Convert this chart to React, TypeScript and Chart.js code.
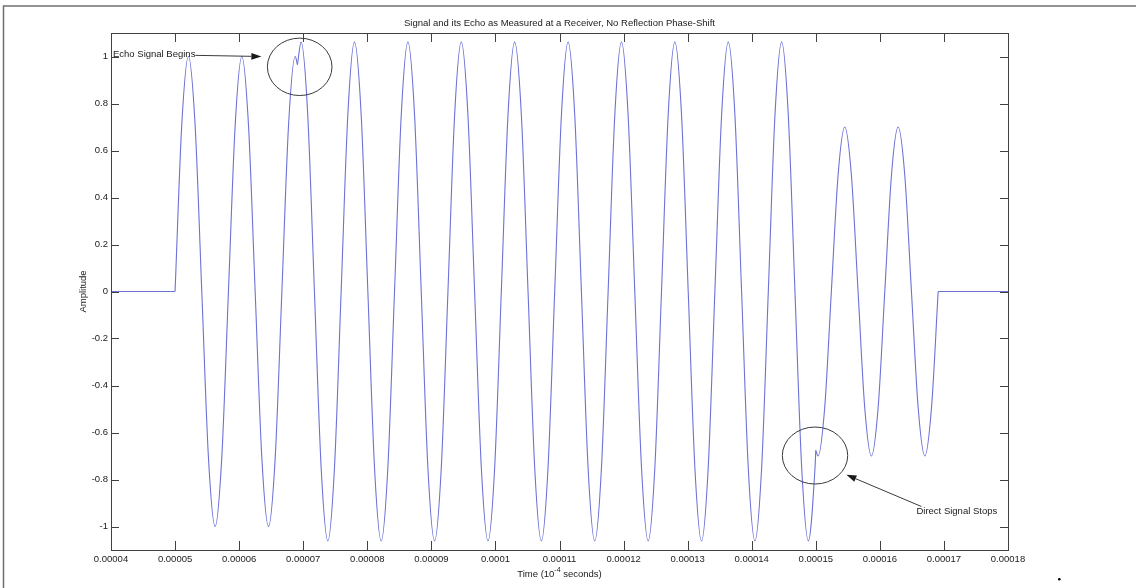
import React, { useEffect, useRef } from "react";
import { Chart, registerables } from "chart.js";

Chart.register(...registerables);

// ---- Data (time in microseconds, amplitude) ----
const leadTimeUs = [40, 50];
const leadAmp = [0, 0];

const directTimeUs = [
  50.0, 51.04, 52.08, 53.13, 54.17, 55.21, 56.25, 57.29, 58.33, 59.38,
  60.42, 61.46, 62.5, 63.54, 64.58, 65.63, 66.67, 67.71, 68.75, 69.1,
];
const directAmp = [
  0, 0.707, 1, 0.707, 0, -0.707, -1, -0.707, 0, 0.707,
  1, 0.707, 0, -0.707, -1, -0.707, 0, 0.707, 1, 0.965,
];

const overlapTimeUs = [
  69.1,
  69.67, 70.71, 71.75, 72.8, 73.84, 74.88, 75.92, 76.96,
  78.0, 79.05, 80.09, 81.13, 82.17, 83.21, 84.25, 85.3,
  86.34, 87.38, 88.42, 89.46, 90.5, 91.55, 92.59, 93.63,
  94.67, 95.71, 96.75, 97.8, 98.84, 99.88, 100.92, 101.96,
  103.0, 104.05, 105.09, 106.13, 107.17, 108.21, 109.25, 110.3,
  111.34, 112.38, 113.42, 114.46, 115.5, 116.55, 117.59, 118.63,
  119.67, 120.71, 121.75, 122.8, 123.84, 124.88, 125.92, 126.96,
  128.0, 129.05, 130.09, 131.13, 132.17, 133.21, 134.25, 135.3,
  136.34, 137.38, 138.42, 139.46, 140.5, 141.55, 142.59, 143.63,
  144.67, 145.71, 146.75, 147.8, 148.84, 149.88,
  150.0,
];
const overlapAmp = [
  0.965,
  1.061, 0.75, 0, -0.75, -1.061, -0.75, 0, 0.75,
  1.061, 0.75, 0, -0.75, -1.061, -0.75, 0, 0.75,
  1.061, 0.75, 0, -0.75, -1.061, -0.75, 0, 0.75,
  1.061, 0.75, 0, -0.75, -1.061, -0.75, 0, 0.75,
  1.061, 0.75, 0, -0.75, -1.061, -0.75, 0, 0.75,
  1.061, 0.75, 0, -0.75, -1.061, -0.75, 0, 0.75,
  1.061, 0.75, 0, -0.75, -1.061, -0.75, 0, 0.75,
  1.061, 0.75, 0, -0.75, -1.061, -0.75, 0, 0.75,
  1.061, 0.75, 0, -0.75, -1.061, -0.75, 0, 0.75,
  1.061, 0.75, 0, -0.75, -1.061, -0.75,
  -0.676,
];

const echoTimeUs = [
  150.0, 150.35, 151.39, 152.43, 153.48, 154.52, 155.56, 156.6, 157.64, 158.68,
  159.73, 160.77, 161.81, 162.85, 163.89, 164.93, 165.98, 167.02, 168.06, 169.1,
];
const echoAmp = [
  -0.676, -0.7, -0.495, 0, 0.495, 0.7, 0.495, 0, -0.495, -0.7,
  -0.495, 0, 0.495, 0.7, 0.495, 0, -0.495, -0.7, -0.495, 0,
];

const tailTimeUs = [169.1, 180];
const tailAmp = [0, 0];

const xTickValuesUs = [40, 50, 60, 70, 80, 90, 100, 110, 120, 130, 140, 150, 160, 170, 180];
const xTickLabels = [
  "0.00004", "0.00005", "0.00006", "0.00007", "0.00008", "0.00009", "0.0001",
  "0.00011", "0.00012", "0.00013", "0.00014", "0.00015", "0.00016", "0.00017", "0.00018",
];
const yTickValues = [-1, -0.8, -0.6, -0.4, -0.2, 0, 0.2, 0.4, 0.6, 0.8, 1];
const yTickLabels = ["-1", "-0.8", "-0.6", "-0.4", "-0.2", "0", "0.2", "0.4", "0.6", "0.8", "1"];

const titleText = "Signal and its Echo as Measured at a Receiver, No Reflection Phase-Shift";
const yLabelText = "Amplitude";

// ---- Styles ----
const FONT = "'Liberation Sans', Arial, sans-serif";
const LINE_COLOR = "rgb(108, 114, 214)";
const TEXT_COLOR = "#1a1a1a";

const zip = (t: number[], a: number[]) => t.map((v, i) => ({ x: v, y: a[i] }));

function arrow(ctx: CanvasRenderingContext2D, x0: number, y0: number, x1: number, y1: number) {
  const ang = Math.atan2(y1 - y0, x1 - x0);
  const len = 10;
  const half = 3.4;
  const bx = x1 - len * Math.cos(ang);
  const by = y1 - len * Math.sin(ang);
  ctx.beginPath();
  ctx.moveTo(x0, y0);
  ctx.lineTo(bx, by);
  ctx.stroke();
  ctx.beginPath();
  ctx.moveTo(x1, y1);
  ctx.lineTo(bx + half * Math.sin(ang), by - half * Math.cos(ang));
  ctx.lineTo(bx - half * Math.sin(ang), by + half * Math.cos(ang));
  ctx.closePath();
  ctx.fill();
}

const overlayPlugin = {
  id: "overlay",
  afterDraw(chart: any) {
    const { ctx, chartArea: a, scales } = chart;
    const xs = scales.x;
    const ys = scales.y;
    ctx.save();

    // outer frame
    ctx.strokeStyle = "#707070";
    ctx.lineWidth = 1.5;
    ctx.beginPath();
    ctx.moveTo(3.5, 588);
    ctx.lineTo(3.5, 6);
    ctx.lineTo(1136, 6);
    ctx.stroke();

    // plot box
    ctx.strokeStyle = "#404040";
    ctx.lineWidth = 1;
    ctx.strokeRect(a.left + 0.5, a.top + 0.5, a.right - a.left, a.bottom - a.top);

    // inward ticks
    ctx.beginPath();
    xTickValuesUs.forEach((v) => {
      const px = Math.round(xs.getPixelForValue(v)) + 0.5;
      ctx.moveTo(px, a.bottom);
      ctx.lineTo(px, a.bottom - 9);
      ctx.moveTo(px, a.top);
      ctx.lineTo(px, a.top + 9);
    });
    yTickValues.forEach((v) => {
      const py = Math.round(ys.getPixelForValue(v)) + 0.5;
      ctx.moveTo(a.left, py);
      ctx.lineTo(a.left + 8, py);
      ctx.moveTo(a.right, py);
      ctx.lineTo(a.right - 8, py);
    });
    ctx.stroke();

    // title
    ctx.fillStyle = TEXT_COLOR;
    ctx.font = `9.5px ${FONT}`;
    ctx.textAlign = "center";
    ctx.textBaseline = "middle";
    const cx = (a.left + a.right) / 2;
    ctx.fillText(titleText, cx, 23);

    // x label with superscript
    const p1 = "Time (10";
    const p2 = "-4";
    const p3 = " seconds)";
    ctx.font = `9.5px ${FONT}`;
    const w1 = ctx.measureText(p1).width;
    const w3 = ctx.measureText(p3).width;
    ctx.font = `7px ${FONT}`;
    const w2 = ctx.measureText(p2).width;
    const total = w1 + w2 + w3;
    let sx = cx - total / 2;
    ctx.textAlign = "left";
    ctx.font = `9.5px ${FONT}`;
    ctx.fillText(p1, sx, 574);
    sx += w1;
    ctx.font = `7px ${FONT}`;
    ctx.fillText(p2, sx, 570);
    sx += w2;
    ctx.font = `9.5px ${FONT}`;
    ctx.fillText(p3, sx, 574);

    // y label
    ctx.save();
    ctx.translate(83, (a.top + a.bottom) / 2);
    ctx.rotate(-Math.PI / 2);
    ctx.textAlign = "center";
    ctx.textBaseline = "middle";
    ctx.fillText(yLabelText, 0, 0);
    ctx.restore();

    // annotations
    ctx.strokeStyle = "#3a3a3a";
    ctx.fillStyle = TEXT_COLOR;
    ctx.lineWidth = 1;
    ctx.font = `9.5px ${FONT}`;
    ctx.textAlign = "left";
    ctx.textBaseline = "middle";

    // Echo Signal Begins
    const e1x = xs.getPixelForValue(40) + 2;
    const e1y = ys.getPixelForValue(1.007);
    const echoLabel = "Echo Signal Begins";
    ctx.fillText(echoLabel, e1x, e1y);
    const e1w = ctx.measureText(echoLabel).width;
    arrow(ctx, e1x + e1w, e1y + 0.5, xs.getPixelForValue(63.47), ys.getPixelForValue(1.0));
    ctx.beginPath();
    ctx.ellipse(xs.getPixelForValue(69.45), ys.getPixelForValue(0.956), 32.3, 28.7, 0, 0, Math.PI * 2);
    ctx.stroke();

    // Direct Signal Stops
    ctx.fillText("Direct Signal Stops", xs.getPixelForValue(165.71), ys.getPixelForValue(-0.936));
    arrow(
      ctx,
      xs.getPixelForValue(166.49),
      ys.getPixelForValue(-0.915),
      xs.getPixelForValue(154.78),
      ys.getPixelForValue(-0.78)
    );
    ctx.beginPath();
    ctx.ellipse(xs.getPixelForValue(149.88), ys.getPixelForValue(-0.698), 32.7, 28.5, 0, 0, Math.PI * 2);
    ctx.stroke();

    // stray dot
    ctx.fillStyle = "#000";
    ctx.beginPath();
    ctx.arc(1059.3, 579.3, 1.3, 0, Math.PI * 2);
    ctx.fill();

    ctx.restore();
  },
};

export default function App() {
  const canvasRef = useRef<HTMLCanvasElement | null>(null);

  useEffect(() => {
    document.body.style.margin = "0";
    const canvas = canvasRef.current;
    if (!canvas) return;

    const lineDs = (data: { x: number; y: number }[], smooth: boolean) => ({
      data,
      borderColor: LINE_COLOR,
      borderWidth: 1.1,
      pointRadius: 0,
      fill: false,
      tension: 0,
      cubicInterpolationMode: smooth ? ("monotone" as const) : ("default" as const),
    });

    const chart = new Chart(canvas, {
      type: "line",
      data: {
        datasets: [
          lineDs(zip(leadTimeUs, leadAmp), false),
          lineDs(zip(directTimeUs, directAmp), true),
          lineDs(zip(overlapTimeUs, overlapAmp), true),
          lineDs(zip(echoTimeUs, echoAmp), true),
          lineDs(zip(tailTimeUs, tailAmp), false),
        ],
      },
      options: {
        animation: false,
        responsive: false,
        devicePixelRatio: 1,
        layout: { padding: { top: 33, right: 128, bottom: 0, left: 0 } },
        plugins: {
          legend: { display: false },
          title: { display: false },
          tooltip: { enabled: false },
        },
        elements: { point: { radius: 0 } },
        scales: {
          x: {
            type: "linear",
            min: 40,
            max: 180,
            grid: { display: false, drawTicks: false },
            border: { display: false },
            afterBuildTicks: (s: any) => {
              s.ticks = xTickValuesUs.map((v) => ({ value: v }));
            },
            afterFit: (s: any) => {
              s.height = 38;
            },
            ticks: {
              padding: 4,
              autoSkip: false,
              maxRotation: 0,
              color: TEXT_COLOR,
              font: { family: FONT, size: 9.5 },
              callback: (_v: any, i: number) => xTickLabels[i],
            },
          },
          y: {
            type: "linear",
            min: -1.1,
            max: 1.1,
            grid: { display: false, drawTicks: false },
            border: { display: false },
            afterBuildTicks: (s: any) => {
              s.ticks = yTickValues.map((v) => ({ value: v }));
            },
            afterFit: (s: any) => {
              s.width = 111;
            },
            ticks: {
              padding: 3,
              autoSkip: false,
              color: TEXT_COLOR,
              font: { family: FONT, size: 9.5 },
              callback: (_v: any, i: number) => yTickLabels[i],
            },
          },
        },
      },
      plugins: [overlayPlugin],
    });

    return () => chart.destroy();
  }, []);

  return (
    <div style={{ width: 1136, height: 588, background: "#fff" }}>
      <canvas ref={canvasRef} width={1136} height={588} style={{ display: "block" }} />
    </div>
  );
}
